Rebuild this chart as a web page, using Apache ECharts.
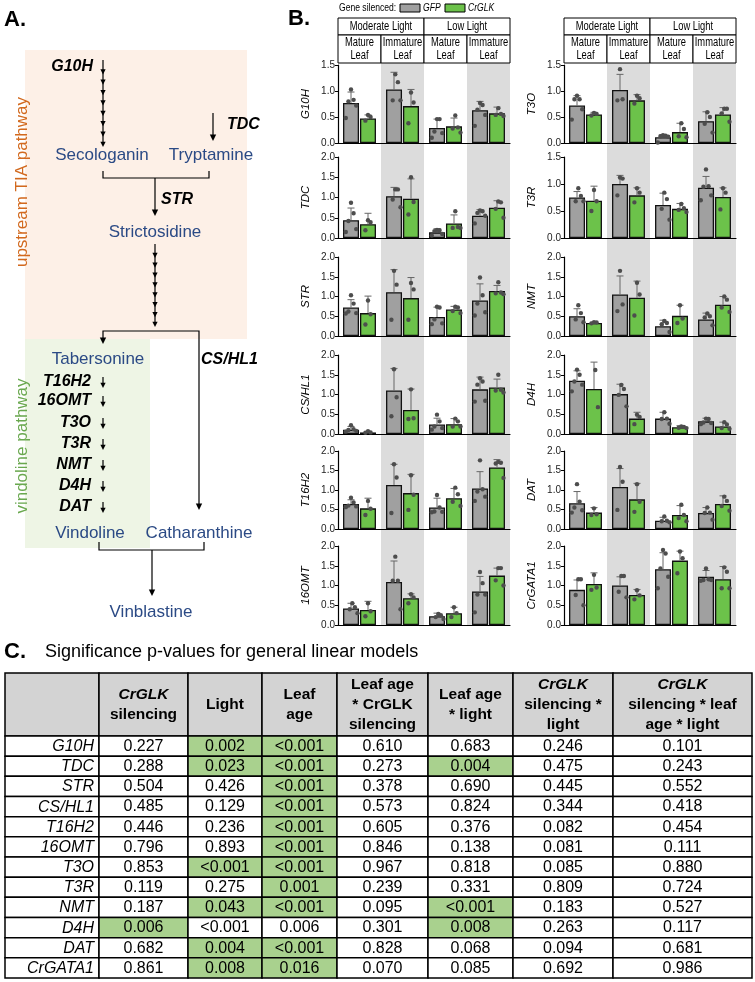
<!DOCTYPE html>
<html>
<head>
<meta charset="utf-8">
<script src="https://cdn.jsdelivr.net/npm/echarts@6/dist/echarts.min.js"></script>
<style>
  html, body { margin: 0; padding: 0; background: #fff; }
  #main { width: 755px; height: 982px; }
</style>
</head>
<body>
<div id="main"></div>
<script>
// ---- data ----
const genes = ['G10H', 'TDC', 'STR', 'CS/HL1', 'T16H2', '16OMT', 'T3O', 'T3R', 'NMT', 'D4H', 'DAT', 'CrGATA1'];
const groups = ['Moderate Light Mature', 'Moderate Light Immature', 'Low Light Mature', 'Low Light Immature'];
const lightLabels = ['Moderate Light', 'Low Light'];
const leafLabels = ['Mature\nLeaf', 'Immature\nLeaf'];
const yMax = [1.5, 2, 2, 2, 2, 2, 1.5, 1.5, 2, 2, 2, 2];

// bar heights (mean) per gene, 4 groups
const gfpMean = [
  [0.77, 1.03, 0.29, 0.63],
  [0.44, 1.03, 0.14, 0.55],
  [0.72, 1.11, 0.48, 0.90],
  [0.11, 1.10, 0.24, 1.13],
  [0.64, 1.13, 0.55, 1.04],
  [0.42, 1.09, 0.22, 0.85],
  [0.72, 1.02, 0.11, 0.42],
  [0.75, 1.00, 0.61, 0.93],
  [0.50, 1.05, 0.25, 0.42],
  [1.35, 1.01, 0.39, 0.32],
  [0.66, 1.08, 0.21, 0.41],
  [0.89, 1.00, 1.41, 1.22]
];
const glkMean = [
  [0.47, 0.71, 0.32, 0.57],
  [0.34, 0.97, 0.36, 0.75],
  [0.58, 0.96, 0.67, 1.14],
  [0.04, 0.61, 0.25, 1.18],
  [0.53, 0.92, 0.79, 1.58],
  [0.38, 0.68, 0.30, 1.25],
  [0.55, 0.82, 0.21, 0.55],
  [0.69, 0.79, 0.54, 0.76],
  [0.33, 0.97, 0.51, 0.79],
  [1.14, 0.39, 0.17, 0.19],
  [0.42, 0.76, 0.36, 0.64],
  [1.04, 0.76, 1.63, 1.16]
];
// standard deviations (upper error bars)
const gfpSD = [
  [0.21, 0.33, 0.17, 0.17],
  [0.30, 0.22, 0.09, 0.15],
  [0.20, 0.57, 0.25, 0.42],
  [0.08, 0.56, 0.16, 0.31],
  [0.11, 0.53, 0.24, 0.43],
  [0.13, 0.53, 0.08, 0.38],
  [0.19, 0.30, 0.05, 0.18],
  [0.11, 0.16, 0.22, 0.21],
  [0.19, 0.47, 0.15, 0.16],
  [0.25, 0.25, 0.16, 0.08],
  [0.30, 0.47, 0.09, 0.14],
  [0.25, 0.22, 0.42, 0.16]
];
const glkSD = [
  [0.07, 0.32, 0.16, 0.12],
  [0.27, 0.49, 0.21, 0.17],
  [0.43, 0.52, 0.08, 0.14],
  [0.02, 0.53, 0.14, 0.21],
  [0.26, 0.48, 0.25, 0.20],
  [0.22, 0.11, 0.15, 0.19],
  [0.04, 0.11, 0.17, 0.13],
  [0.27, 0.14, 0.10, 0.17],
  [0.02, 0.42, 0.27, 0.21],
  [0.68, 0.16, 0.04, 0.11],
  [0.13, 0.41, 0.24, 0.21],
  [0.28, 0.14, 0.24, 0.32]
];
// individual replicates
const gfpPts = [
  [[1.03, 0.83, 0.80, 0.72, 0.48], [1.32, 1.17, 0.82, 0.82], [0.46, 0.46, 0.22, 0.19, 0.10], [0.77, 0.73, 0.64, 0.54, 0.33]],
  [[0.87, 0.61, 0.42, 0.22, 0.15], [1.20, 1.20, 0.95, 0.76], [0.20, 0.19, 0.17, 0.10, 0.06], [0.68, 0.66, 0.62, 0.55, 0.36]],
  [[1.03, 0.82, 0.62, 0.58, 0.57], [1.65, 1.30, 0.41], [0.74, 0.72, 0.42, 0.32, 0.30], [1.48, 1.03, 0.82, 0.60, 0.52]],
  [[0.22, 0.12, 0.10, 0.08, 0.06], [1.64, 0.93, 0.45], [0.49, 0.32, 0.19, 0.15, 0.11], [1.41, 1.33, 1.25, 0.84, 0.82]],
  [[0.80, 0.68, 0.60, 0.58, 0.56], [1.66, 1.32, 0.41], [0.87, 0.55, 0.45, 0.44, 0.43], [1.76, 1.02, 0.96, 0.83, 0.72]],
  [[0.55, 0.45, 0.40, 0.30], [1.73, 1.12, 1.12, 0.40], [0.28, 0.25, 0.20, 0.15], [1.34, 1.06, 0.77, 0.77, 0.32]],
  [[0.91, 0.84, 0.84, 0.65, 0.45], [1.42, 0.84, 0.82], [0.15, 0.14, 0.13, 0.12, 0.01], [0.59, 0.50, 0.37, 0.20]],
  [[0.92, 0.78, 0.68, 0.68], [1.12, 1.10, 0.79], [0.84, 0.72, 0.54, 0.34], [1.27, 0.96, 0.95, 0.79, 0.70]],
  [[0.78, 0.58, 0.42, 0.35], [1.65, 0.80, 0.63], [0.38, 0.33, 0.30, 0.10], [0.57, 0.50, 0.47, 0.27]],
  [[1.63, 1.50, 1.33, 1.25, 1.08], [1.24, 1.14, 0.99, 0.70], [0.55, 0.39, 0.38, 0.26], [0.39, 0.38, 0.29, 0.28, 0.25]],
  [[1.15, 0.70, 0.55, 0.48, 0.42], [1.59, 1.21, 0.49], [0.32, 0.21, 0.20, 0.17], [0.55, 0.42, 0.41, 0.24]],
  [[1.16, 1.16, 0.76, 0.50], [1.24, 1.24, 0.84, 0.70], [1.90, 1.81, 1.43, 1.22, 0.93], [1.43, 1.16, 1.14, 1.14, 1.12]]
];
const glkPts = [
  [[0.54, 0.50, 0.43], [0.97, 0.78, 0.38], [0.53, 0.30, 0.28, 0.20], [0.67, 0.56, 0.54, 0.52]],
  [[0.44, 0.39, 0.19], [1.50, 0.89, 0.58], [0.66, 0.27, 0.25, 0.25], [0.90, 0.88, 0.72, 0.50]],
  [[0.90, 0.55, 0.29], [1.34, 1.18, 0.41], [0.74, 0.72, 0.63, 0.58], [1.36, 1.10, 1.08, 1.06]],
  [[0.07, 0.04, 0.03], [1.13, 0.40, 0.38], [0.39, 0.32, 0.19, 0.19], [1.50, 1.12, 1.10, 1.05]],
  [[0.72, 0.52, 0.36], [1.38, 0.88, 0.49], [1.06, 0.89, 0.70, 0.59], [1.72, 1.70, 1.68, 1.31]],
  [[0.55, 0.35, 0.22], [0.78, 0.70, 0.55], [0.45, 0.30, 0.20], [1.44, 1.44, 1.13, 1.00]],
  [[0.58, 0.56, 0.53], [0.91, 0.86, 0.76], [0.38, 0.27, 0.13, 0.11], [0.66, 0.66, 0.57, 0.41]],
  [[0.89, 0.68, 0.50], [0.92, 0.84, 0.66], [0.63, 0.55, 0.52, 0.48], [0.92, 0.84, 0.53]],
  [[0.35, 0.34, 0.32], [1.35, 1.05, 0.52], [0.78, 0.44, 0.33], [1.00, 0.92, 0.72, 0.61]],
  [[1.62, 0.68], [0.49, 0.43, 0.25], [0.19, 0.18, 0.16, 0.15], [0.30, 0.24, 0.15, 0.13]],
  [[0.53, 0.38, 0.36], [1.15, 0.70, 0.44], [0.62, 0.36, 0.28, 0.20], [0.83, 0.72, 0.59, 0.47]],
  [[1.27, 0.95, 0.89], [0.88, 0.75, 0.65], [1.86, 1.69, 1.31], [1.46, 1.35, 0.93, 0.93]]
];

// table C
const tableHead = ['', '{i|CrGLK}\nsilencing', 'Light', 'Leaf\nage', 'Leaf age\n* CrGLK\nsilencing', 'Leaf age\n* light', '{i|CrGLK}\nsilencing *\nlight', '{i|CrGLK}\nsilencing * leaf\nage * light'];
const pCrGLK = ['0.227', '0.288', '0.504', '0.485', '0.446', '0.796', '0.853', '0.119', '0.187', '0.006', '0.682', '0.861'];
const pLight = ['0.002', '0.023', '0.426', '0.129', '0.236', '0.893', '<0.001', '0.275', '0.043', '<0.001', '0.004', '0.008'];
const pLeafAge = ['<0.001', '<0.001', '<0.001', '<0.001', '<0.001', '<0.001', '<0.001', '0.001', '<0.001', '0.006', '<0.001', '0.016'];
const pLeafAgeCrGLK = ['0.610', '0.273', '0.378', '0.573', '0.605', '0.846', '0.967', '0.239', '0.095', '0.301', '0.828', '0.070'];
const pLeafAgeLight = ['0.683', '0.004', '0.690', '0.824', '0.376', '0.138', '0.818', '0.331', '<0.001', '0.008', '0.068', '0.085'];
const pCrGLKLight = ['0.246', '0.475', '0.445', '0.344', '0.082', '0.081', '0.085', '0.809', '0.183', '0.263', '0.094', '0.692'];
const pThreeWay = ['0.101', '0.243', '0.552', '0.418', '0.454', '0.111', '0.880', '0.724', '0.527', '0.117', '0.681', '0.986'];
// highlighted (green) cells, per column
const hiCrGLK = [0, 0, 0, 0, 0, 0, 0, 0, 0, 1, 0, 0];
const hiLight = [1, 1, 0, 0, 0, 0, 1, 0, 1, 0, 1, 1];
const hiLeafAge = [1, 1, 1, 1, 1, 1, 1, 1, 1, 0, 1, 1];
const hiLeafAgeLight = [0, 1, 0, 0, 0, 0, 0, 0, 1, 1, 0, 0];
const hiNone = [0, 0, 0, 0, 0, 0, 0, 0, 0, 0, 0, 0];

// ---- layout / style ----
const FONT = '"Liberation Sans", Arial, Helvetica, sans-serif';
const BLUE = '#2b4a85';
const GRAY = '#a0a0a0';
const GREEN = '#6cc24a';
const colLeft = [338, 564];
const gridW = 172;
const rowTop = [65, 157, 257, 355, 451, 546];
const rowBottom = [143, 238, 336, 434, 529, 625];
const BAR_W = 16;
const SIDE = 8.5;
const NARROW_X = 0.78;   // horizontal squeeze for the condensed labels of panel B

const G = [];
function txt(x, y, s, o) {
  o = o || {};
  const a = o.a || 'left';
  const st = Object.assign({ text: s, fill: '#000', fontFamily: FONT, fontSize: 16 }, o.st || {});
  st.textAlign = a; st.align = a;
  st.textVerticalAlign = 'middle'; st.verticalAlign = 'middle';
  G.push({ type: 'text', x: x, y: y, rotation: o.rot || 0, scaleX: o.sx || 1, z: 10, style: st });
}
function poly(pts, w) {
  G.push({ type: 'polyline', z: 10, shape: { points: pts }, style: { stroke: '#000', lineWidth: w || 1.2, fill: null } });
}
function head(x, y, s) {
  s = s || 3;
  G.push({ type: 'polygon', z: 10, shape: { points: [[x - s, y - s * 2], [x + s, y - s * 2], [x, y]] }, style: { fill: '#000' } });
}
function arrow(x, y0, y1) { poly([[x, y0], [x, y1 - 4]]); head(x, y1, 3.2); }
function chain(x, y0, y1, n) {
  poly([[x, y0], [x, y1 - 3]]);
  const step = (y1 - y0 - 4) / n;
  for (let k = 1; k <= n; k++) head(x, y0 + 4 + step * k, 2.6);
}
function rect(x, y, w, h, fill, lw) {
  G.push({ type: 'rect', z: 9, shape: { x: x, y: y, width: w, height: h }, style: { fill: fill || '#fff', stroke: '#000', lineWidth: lw || 1 } });
}

// ---- panel A ----
G.push({ type: 'rect', z: -5, shape: { x: 25, y: 50, width: 222, height: 289 }, style: { fill: '#fdf0e7' } });
G.push({ type: 'rect', z: -5, shape: { x: 25, y: 339, width: 125, height: 209 }, style: { fill: '#eef5e5' } });
txt(4, 20, 'A.', { st: { fontSize: 22, fontWeight: 'bold' } });
txt(22, 182, 'upstream TIA pathway', { a: 'center', rot: Math.PI / 2, st: { fill: '#d2691e', fontSize: 17 } });
txt(22, 446, 'vindoline pathway', { a: 'center', rot: Math.PI / 2, st: { fill: '#6aa84f', fontSize: 17 } });
const bi = { fontSize: 16, fontWeight: 'bold', fontStyle: 'italic' };
txt(93, 67, 'G10H', { a: 'right', st: bi });
chain(103, 60, 147, 8);
txt(227, 125, 'TDC', { st: bi });
arrow(213, 113, 141);
txt(102, 155, 'Secologanin', { a: 'center', st: { fill: BLUE, fontSize: 17 } });
txt(211, 155, 'Tryptamine', { a: 'center', st: { fill: BLUE, fontSize: 17 } });
poly([[103, 171], [103, 178], [209, 178], [209, 171]]);
arrow(155, 178, 216);
txt(161, 200, 'STR', { st: bi });
txt(155, 232, 'Strictosidine', { a: 'center', st: { fill: BLUE, fontSize: 17 } });
chain(155, 244, 327, 8);
poly([[103, 344 - 4], [103, 331], [199, 331], [199, 506]]);
head(103, 344, 3.2);
head(199, 510, 3.2);
txt(201, 360, 'CS/HL1', { st: bi });
txt(98, 359, 'Tabersonine', { a: 'center', st: { fill: BLUE, fontSize: 17 } });
const vinEnz = ['T16H2', '16OMT', 'T3O', 'T3R', 'NMT', 'D4H', 'DAT'];
const vinY = [382, 401, 423, 444, 465, 486, 507];
vinEnz.forEach((e, k) => {
  txt(91, vinY[k], e, { a: 'right', st: bi });
  poly([[103, vinY[k] - 5], [103, vinY[k] + 2]]);
  head(103, vinY[k] + 6, 2.6);
});
txt(90, 533, 'Vindoline', { a: 'center', st: { fill: BLUE, fontSize: 17 } });
txt(199, 533, 'Catharanthine', { a: 'center', st: { fill: BLUE, fontSize: 17 } });
poly([[99, 542], [99, 550], [204, 550], [204, 542]]);
arrow(152, 550, 596);
txt(151, 612, 'Vinblastine', { a: 'center', st: { fill: BLUE, fontSize: 17 } });

// ---- panel B decorations ----
txt(288, 19, 'B.', { st: { fontSize: 22, fontWeight: 'bold' } });
txt(339, 8, 'Gene silenced:', { sx: NARROW_X, st: { fontSize: 11 } });
G.push({ type: 'rect', z: 9, shape: { x: 400, y: 4, width: 20, height: 8 }, style: { fill: GRAY, stroke: '#000', lineWidth: 1 } });
txt(423, 8, 'GFP', { sx: NARROW_X, st: { fontSize: 11, fontStyle: 'italic' } });
G.push({ type: 'rect', z: 9, shape: { x: 445, y: 4, width: 20, height: 8 }, style: { fill: GREEN, stroke: '#000', lineWidth: 1 } });
txt(468, 8, 'CrGLK', { sx: NARROW_X, st: { fontSize: 11, fontStyle: 'italic' } });

colLeft.forEach(function (L) {
  const b = gridW / 4;
  [1, 3].forEach(function (k) {
    G.push({ type: 'rect', z: -5, shape: { x: L + k * b, y: 63, width: b, height: rowBottom[5] - 63 }, style: { fill: '#dcdcdc' } });
  });
  lightLabels.forEach(function (t, j) {
    rect(L + j * 2 * b, 18, 2 * b, 17);
    txt(L + j * 2 * b + b, 26.5, t, { a: 'center', sx: NARROW_X, st: { fontSize: 12 } });
  });
  for (let k = 0; k < 4; k++) {
    rect(L + k * b, 35, b, 28);
    txt(L + k * b + b / 2, 49, leafLabels[k % 2], { a: 'center', sx: NARROW_X, st: { fontSize: 12, lineHeight: 12.5 } });
  }
});

// ---- panel C table ----
txt(4, 652, 'C.', { st: { fontSize: 22, fontWeight: 'bold' } });
txt(45, 652, 'Significance p-values for general linear models', { st: { fontSize: 18 } });
const colX = [5, 99, 188, 262, 337, 428, 513, 613, 752];
const headTop = 673, headBot = 736, rowH = (978 - 736) / 12;
const tableCols = [pCrGLK, pLight, pLeafAge, pLeafAgeCrGLK, pLeafAgeLight, pCrGLKLight, pThreeWay];
const tableHi = [hiCrGLK, hiLight, hiLeafAge, hiNone, hiLeafAgeLight, hiNone, hiNone];
tableHead.forEach(function (h, c) {
  const x0 = colX[c], w = colX[c + 1] - colX[c];
  rect(x0, headTop, w, headBot - headTop, '#d3d3d3', 1.5);
  if (h) {
    G.push({ type: 'text', z: 10, x: x0 + w / 2, y: (headTop + headBot) / 2, style: {
      text: h, fill: '#000', fontFamily: FONT, fontSize: 15.5, fontWeight: 'bold', lineHeight: 20,
      textAlign: 'center', align: 'center', textVerticalAlign: 'middle', verticalAlign: 'middle',
      rich: { i: { fontFamily: FONT, fontSize: 15.5, fontWeight: 'bold', fontStyle: 'italic', lineHeight: 20 } }
    } });
  }
});
genes.forEach(function (g, r) {
  const y0 = headBot + r * rowH;
  rect(colX[0], y0, colX[1] - colX[0], rowH, '#fff', 1.5);
  txt(colX[1] - 5, y0 + rowH / 2 + 0.5, g, { a: 'right', st: { fontSize: 16, fontStyle: 'italic' } });
  tableCols.forEach(function (col, c) {
    const x0 = colX[c + 1], w = colX[c + 2] - colX[c + 1];
    rect(x0, y0, w, rowH, tableHi[c][r] ? '#a9d18e' : '#fff', 1.5);
    txt(x0 + w / 2, y0 + rowH / 2 + 0.5, col[r], { a: 'center', st: { fontSize: 16 } });
  });
});

// ---- charts of panel B ----
const grids = [], xAxes = [], yAxes = [], series = [];
genes.forEach(function (g, i) {
  const c = i < 6 ? 0 : 1, r = i % 6;
  grids.push({ left: colLeft[c], width: gridW, top: rowTop[r], height: rowBottom[r] - rowTop[r] });
  xAxes.push({
    gridIndex: i, type: 'category', data: groups,
    axisLine: { lineStyle: { color: '#000', width: 1.2 } },
    axisTick: { show: false }, axisLabel: { show: false }, splitLine: { show: false }
  });
  yAxes.push({
    gridIndex: i, type: 'value', min: 0, max: yMax[i], interval: 0.5,
    name: g, nameLocation: 'middle', nameGap: 26, nameRotate: 90,
    nameTextStyle: { fontStyle: 'italic', fontSize: 11.5, fontFamily: FONT, color: '#000' },
    axisLine: { show: true, lineStyle: { color: '#000', width: 1.2 } },
    axisTick: { show: true, length: 3, lineStyle: { color: '#000' } },
    axisLabel: { fontSize: 10, color: '#222', fontFamily: FONT, margin: 3, formatter: function (v) { return v.toFixed(1); } },
    splitLine: { show: false }
  });
  const bar = { type: 'bar', xAxisIndex: i, yAxisIndex: i, barWidth: BAR_W, barGap: '6%', silent: true, z: 2 };
  series.push(Object.assign({}, bar, { name: 'GFP', data: gfpMean[i], itemStyle: { color: GRAY, borderColor: '#111', borderWidth: 1.3 } }));
  series.push(Object.assign({}, bar, { name: 'CrGLK', data: glkMean[i], itemStyle: { color: GREEN, borderColor: '#111', borderWidth: 1.3 } }));

  const err = [], dots = [];
  for (let k = 0; k < 4; k++) {
    err.push([k, gfpMean[i][k], gfpSD[i][k], -1]);
    err.push([k, glkMean[i][k], glkSD[i][k], 1]);
    gfpPts[i][k].forEach(function (v, j, a) { dots.push([k, v, -1, j, a.length]); });
    glkPts[i][k].forEach(function (v, j, a) { dots.push([k, v, 1, j, a.length]); });
  }
  series.push({
    type: 'custom', xAxisIndex: i, yAxisIndex: i, data: err, encode: { x: 0, y: 1 }, z: 3, silent: true,
    renderItem: function (p, api) {
      const k = api.value(0), m = api.value(1), sd = api.value(2), s = api.value(3);
      const base = api.coord([k, m]), top = api.coord([k, m + sd]);
      const x = base[0] + s * SIDE;
      return { type: 'group', children: [
        { type: 'line', shape: { x1: x, y1: base[1], x2: x, y2: top[1] }, style: { stroke: '#666', lineWidth: 1 } },
        { type: 'line', shape: { x1: x - 3.5, y1: top[1], x2: x + 3.5, y2: top[1] }, style: { stroke: '#666', lineWidth: 1 } }
      ] };
    }
  });
  series.push({
    type: 'custom', xAxisIndex: i, yAxisIndex: i, data: dots, encode: { x: 0, y: 1 }, z: 4, silent: true,
    renderItem: function (p, api) {
      const k = api.value(0), v = api.value(1), s = api.value(2), j = api.value(3), n = api.value(4);
      const pt = api.coord([k, v]);
      // alternate left/right around the bar centre so the dots sit in a loose column
      const off = n > 1 ? ((j % 2 ? 1 : -1) * Math.ceil(j / 2) * 2.6) : 0;
      const x = pt[0] + s * SIDE + (n % 2 ? off : off + 1.3);
      return { type: 'circle', shape: { cx: x, cy: pt[1], r: 2.2 }, style: { fill: '#4d4d4d' } };
    }
  });
});

const chart = echarts.init(document.getElementById('main'), null, { renderer: 'canvas' });
chart.setOption({
  animation: false,
  backgroundColor: '#fff',
  grid: grids,
  xAxis: xAxes,
  yAxis: yAxes,
  series: series,
  graphic: { elements: G }
});
</script>
</body>
</html>
